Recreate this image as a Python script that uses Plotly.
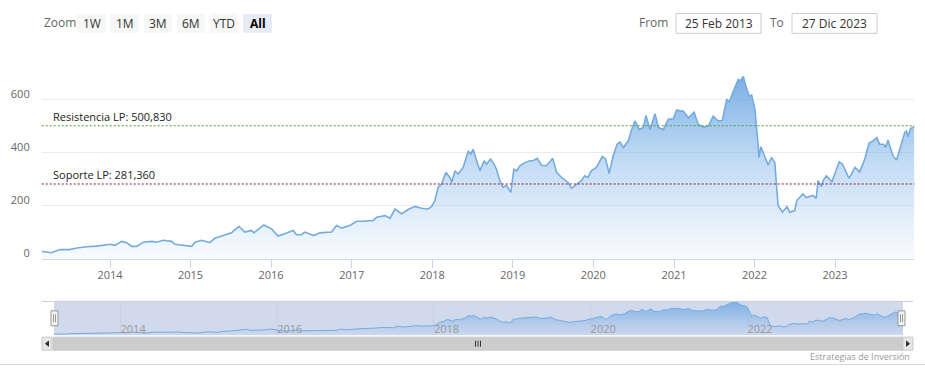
import plotly.graph_objects as go

W, H = 925, 376

# ---------------- data ----------------
dates = [
    "2013-02-25", "2013-04-10", "2013-05-18", "2013-07-02", "2013-08-03", "2013-09-17", "2013-11-01",
    "2014-01-01", "2014-01-23", "2014-02-23", "2014-03-17", "2014-04-09", "2014-05-02", "2014-06-01",
    "2014-07-09", "2014-07-31", "2014-08-30", "2014-10-07", "2014-10-22", "2014-11-29",
    "2015-01-06", "2015-01-21", "2015-02-20", "2015-03-29", "2015-04-21", "2015-05-28", "2015-07-06",
    "2015-07-13", "2015-08-09", "2015-09-04", "2015-10-04", "2015-10-15", "2015-11-03", "2015-11-29",
    "2016-01-03", "2016-02-02", "2016-03-03", "2016-04-10", "2016-04-25", "2016-05-18", "2016-06-02",
    "2016-06-24", "2016-07-12", "2016-08-09", "2016-10-01", "2016-10-24", "2016-11-16", "2016-12-23",
    "2017-01-23", "2017-02-22", "2017-03-25", "2017-04-09", "2017-04-24", "2017-06-01", "2017-06-23",
    "2017-07-16", "2017-08-15", "2017-09-14", "2017-10-14", "2017-11-13", "2017-12-13", "2017-12-29",
    "2018-01-13", "2018-01-28", "2018-02-12", "2018-03-04", "2018-03-22", "2018-03-30", "2018-04-14",
    "2018-04-28", "2018-05-21", "2018-06-13", "2018-06-25", "2018-07-05", "2018-07-21", "2018-08-05",
    "2018-08-24", "2018-09-04", "2018-09-22", "2018-10-04", "2018-10-19", "2018-11-03", "2018-11-18",
    "2018-12-03", "2018-12-23",
    "2019-01-06", "2019-01-18", "2019-02-02", "2019-02-25", "2019-03-19", "2019-04-03", "2019-04-22",
    "2019-05-11", "2019-06-03", "2019-07-01", "2019-07-19", "2019-08-10", "2019-09-09", "2019-09-24",
    "2019-10-17", "2019-11-08", "2019-11-23", "2019-12-08", "2019-12-23",
    "2020-01-15", "2020-02-11", "2020-02-26", "2020-03-13", "2020-03-31", "2020-04-18", "2020-05-01",
    "2020-05-16", "2020-06-08", "2020-06-23", "2020-07-08", "2020-07-27", "2020-08-15", "2020-08-27",
    "2020-09-14", "2020-10-07", "2020-10-22", "2020-11-14", "2020-12-06", "2020-12-29",
    "2021-01-13", "2021-01-31", "2021-02-12", "2021-03-07", "2021-04-02", "2021-04-21", "2021-05-14",
    "2021-06-05", "2021-06-28", "2021-07-20", "2021-08-08", "2021-08-28", "2021-09-09", "2021-09-27",
    "2021-10-19", "2021-10-30", "2021-11-11", "2021-11-23", "2021-12-08", "2021-12-19",
    "2022-01-03", "2022-01-18", "2022-01-21", "2022-01-30", "2022-02-17", "2022-03-04", "2022-03-19",
    "2022-04-03", "2022-04-18", "2022-05-08", "2022-05-28", "2022-06-10", "2022-07-02", "2022-07-12",
    "2022-08-08", "2022-08-24", "2022-09-23", "2022-10-08", "2022-10-16", "2022-10-31", "2022-11-08",
    "2022-11-23", "2022-12-18",
    "2023-01-20", "2023-02-04", "2023-03-06", "2023-04-01", "2023-04-23", "2023-05-16", "2023-06-04",
    "2023-06-22", "2023-07-10", "2023-07-22", "2023-08-10", "2023-08-19", "2023-08-29", "2023-09-21",
    "2023-10-07", "2023-10-22", "2023-11-13", "2023-11-21", "2023-11-28", "2023-12-09", "2023-12-27",
]
prices = [
    27, 22, 34, 34, 40, 45, 47,
    54, 50, 65, 60, 46, 46, 62,
    65, 62, 69, 65, 54, 50,
    46, 62, 69, 60, 77, 87, 97,
    104, 121, 100, 106, 97, 110, 127,
    112, 85, 94, 106, 90, 90, 100,
    94, 87, 97, 100, 125, 115, 125,
    141, 141, 144, 144, 156, 162, 152,
    187, 169, 185, 197, 190, 187, 197,
    219, 269, 281, 325, 306, 287, 331,
    319, 344, 406, 394, 412, 369, 331,
    369, 356, 375, 362, 337, 294, 269,
    276, 250,
    337, 331, 350, 362, 369, 369, 378,
    352, 350, 378, 325, 306, 287, 265,
    281, 294, 312, 306, 331,
    344, 385, 375, 321, 387, 431, 440,
    419, 444, 487, 519, 487, 494, 540,
    487, 546, 494, 487, 525, 527,
    560, 556, 556, 531, 552, 506, 496,
    500, 537, 519, 521, 600, 592, 631,
    675, 671, 687, 650, 612, 617,
    562, 425, 381, 422, 387, 352, 381,
    362, 200, 175, 196, 175, 181, 219,
    244, 230, 238, 227, 294, 272, 294,
    312, 290,
    365, 356, 302, 344, 327, 375, 435,
    444, 456, 431, 431, 419, 447, 387,
    372, 412, 475, 481, 460, 490, 497,
]

resist_value = 500.83
support_value = 281.36
resist_label = "Resistencia LP: 500,830"
support_label = "Soporte LP: 281,360"
y_tick_values = [0, 200, 400, 600]
y_tick_labels = ["0", "200", "400", "600"]
zoom_label = "Zoom"
range_buttons = ["1W", "1M", "3M", "6M", "YTD", "All"]
active_button = "All"
from_label, to_label = "From", "To"
from_date_text = "25 Feb 2013"
to_date_text = "27 Dic 2023"
credit_text = "Estrategias de Inversión"

# ---------------- styling helpers ----------------
FONT = "Open Sans"
LINE_COLOR = "#74abe0"


def fx(p):
    return p / W


def fy(p):
    return 1 - p / H


fig = go.Figure()

# main series
fig.add_trace(go.Scatter(
    x=dates, y=prices, mode="lines", xaxis="x", yaxis="y",
    line=dict(color=LINE_COLOR, width=1.6),
    fill="tozeroy",
    fillgradient=dict(type="vertical", start=0, stop=712,
                      colorscale=[[0, "rgba(124,178,232,0.04)"],
                                  [0.5, "rgba(124,178,232,0.45)"],
                                  [1, "rgba(110,166,226,0.95)"]]),
    hoverinfo="x+y", showlegend=False,
))

# navigator series
fig.add_trace(go.Scatter(
    x=dates, y=prices, mode="lines", xaxis="x2", yaxis="y2",
    line=dict(color=LINE_COLOR, width=1),
    fill="tozeroy",
    fillgradient=dict(type="vertical", start=0, stop=700,
                      colorscale=[[0, "rgba(124,178,232,0.05)"],
                                  [1, "rgba(110,166,226,0.85)"]]),
    hoverinfo="skip", showlegend=False,
))

shapes = []
annotations = []

# support / resistance plot lines
shapes.append(dict(type="line", xref="x domain", yref="y", x0=0, x1=1,
                   y0=resist_value, y1=resist_value,
                   line=dict(color="#4f9a34", width=1, dash="2px,2px")))
shapes.append(dict(type="line", xref="x domain", yref="y", x0=0, x1=1,
                   y0=support_value, y1=support_value,
                   line=dict(color="#8a0f3c", width=1, dash="2px,2px")))
annotations.append(dict(x=dates[0], y=resist_value, xref="x", yref="y", text=resist_label,
                        showarrow=False, xanchor="left", yanchor="bottom", xshift=9, yshift=0,
                        font=dict(family=FONT, size=11, color="#222")))
annotations.append(dict(x=dates[0], y=support_value, xref="x", yref="y", text=support_label,
                        showarrow=False, xanchor="left", yanchor="bottom", xshift=9, yshift=0,
                        font=dict(family=FONT, size=11, color="#222")))

# navigator mask + outline
shapes.append(dict(type="rect", xref="x2 domain", yref="y2 domain", x0=0, x1=1, y0=0, y1=1,
                   fillcolor="rgba(102,133,194,0.3)", line=dict(width=0), layer="below"))
shapes.append(dict(type="line", xref="paper", yref="paper", x0=fx(42), x1=fx(913),
                   y0=fy(303), y1=fy(303), line=dict(color="#cccccc", width=1)))

# navigator handles
for hx in (54.5, 901.5):
    shapes.append(dict(type="rect", xref="paper", yref="paper", x0=fx(hx - 3.5), x1=fx(hx + 3.5),
                       y0=fy(327.5), y1=fy(312.5), fillcolor="#f2f2f2",
                       line=dict(color="#999999", width=1)))
    for dx in (-1, 1):
        shapes.append(dict(type="line", xref="paper", yref="paper", x0=fx(hx + dx), x1=fx(hx + dx),
                           y0=fy(316), y1=fy(324), line=dict(color="#999999", width=1)))

# scrollbar
shapes.append(dict(type="rect", xref="paper", yref="paper", x0=fx(42), x1=fx(913),
                   y0=fy(352), y1=fy(339), fillcolor="#f2f2f2", line=dict(color="#f2f2f2", width=1)))
shapes.append(dict(type="rect", xref="paper", yref="paper", x0=fx(53), x1=fx(903),
                   y0=fy(352), y1=fy(339), fillcolor="#cccccc", line=dict(color="#cccccc", width=1)))
for ax0 in (42, 903):
    shapes.append(dict(type="rect", xref="paper", yref="paper", x0=fx(ax0), x1=fx(ax0 + 10),
                       y0=fy(352), y1=fy(339), fillcolor="#e6e6e6", line=dict(color="#cccccc", width=1)))
shapes.append(dict(type="path", xref="paper", yref="paper",
                   path=f"M {fx(48.5)},{fy(343)} L {fx(45.5)},{fy(345.5)} L {fx(48.5)},{fy(348)} Z",
                   fillcolor="#333333", line=dict(color="#333333", width=1)))
shapes.append(dict(type="path", xref="paper", yref="paper",
                   path=f"M {fx(906.5)},{fy(343)} L {fx(909.5)},{fy(345.5)} L {fx(906.5)},{fy(348)} Z",
                   fillcolor="#333333", line=dict(color="#333333", width=1)))
for gx in (475.5, 478, 480.5):
    shapes.append(dict(type="line", xref="paper", yref="paper", x0=fx(gx), x1=fx(gx),
                       y0=fy(342.5), y1=fy(348.5), line=dict(color="#333333", width=1)))

# bottom separator line
shapes.append(dict(type="line", xref="paper", yref="paper", x0=0, x1=1, y0=fy(366.5), y1=fy(366.5),
                   line=dict(color="#d8d8d8", width=1)))

# range selector (zoom buttons)
annotations.append(dict(x=fx(42), y=fy(23), xref="paper", yref="paper", text=zoom_label,
                        showarrow=False, xanchor="left", yanchor="middle",
                        font=dict(family=FONT, size=12, color="#666666")))
btn_edges = [(77, 106), (110, 139), (144, 172), (177, 205), (210, 238), (243, 272)]
for label, (bx0, bx1) in zip(range_buttons, btn_edges):
    active = label == active_button
    shapes.append(dict(type="rect", xref="paper", yref="paper", x0=fx(bx0), x1=fx(bx1),
                       y0=fy(33), y1=fy(14), fillcolor="#e6ebf5" if active else "#f7f7f7",
                       line=dict(width=0)))
    annotations.append(dict(x=fx((bx0 + bx1) / 2), y=fy(23.5), xref="paper", yref="paper",
                            text=f"<b>{label}</b>" if active else label, showarrow=False,
                            xanchor="center", yanchor="middle",
                            font=dict(family=FONT, size=12, color="#000000" if active else "#333333")))

# date inputs
annotations.append(dict(x=fx(670), y=fy(23), xref="paper", yref="paper", text=from_label,
                        showarrow=False, xanchor="right", yanchor="middle",
                        font=dict(family=FONT, size=12, color="#666666")))
annotations.append(dict(x=fx(786), y=fy(23), xref="paper", yref="paper", text=to_label,
                        showarrow=False, xanchor="right", yanchor="middle",
                        font=dict(family=FONT, size=12, color="#666666")))
for (bx0, bx1), txt in zip([(676, 761), (792, 877)], [from_date_text, to_date_text]):
    shapes.append(dict(type="rect", xref="paper", yref="paper", x0=fx(bx0), x1=fx(bx1),
                       y0=fy(33.5), y1=fy(13.5), fillcolor="#ffffff",
                       line=dict(color="#cccccc", width=1)))
    annotations.append(dict(x=fx((bx0 + bx1) / 2), y=fy(23.5), xref="paper", yref="paper",
                            text=txt, showarrow=False, xanchor="center", yanchor="middle",
                            font=dict(family=FONT, size=12, color="#333333")))

# credits
annotations.append(dict(x=fx(912), y=fy(358), xref="paper", yref="paper", text=credit_text,
                        showarrow=False, xanchor="right", yanchor="middle",
                        font=dict(family=FONT, size=9, color="#999999")))

fig.update_layout(
    width=W, height=H, autosize=False,
    margin=dict(l=0, r=0, t=0, b=0),
    paper_bgcolor="#ffffff", plot_bgcolor="rgba(0,0,0,0)",
    font=dict(family=FONT, size=11, color="#666666"),
    showlegend=False,
    shapes=shapes, annotations=annotations,
    xaxis=dict(
        domain=[fx(41.7), fx(914.4)], range=[dates[0], dates[-1]], type="date",
        anchor="y", tick0="2014-01-01", dtick="M12", tickformat="%Y",
        showgrid=False, zeroline=False, showline=True, linecolor="#ccd6eb", linewidth=1,
        ticks="outside", ticklen=8, tickcolor="#ccd6eb", ticklabelstandoff=-2,
        tickfont=dict(family=FONT, size=11, color="#666666"),
    ),
    yaxis=dict(
        domain=[fy(260), fy(70)], range=[0, 712.5], anchor="x",
        tickvals=y_tick_values, ticktext=y_tick_labels,
        showgrid=True, gridcolor="#ebebeb", gridwidth=1, zeroline=False, showline=False,
        ticks="", ticklabelstandoff=11, ticklabelshift=-5,
        tickfont=dict(family=FONT, size=11, color="#666666"),
    ),
    xaxis2=dict(
        domain=[fx(54), fx(903)], range=[dates[0], dates[-1]], type="date",
        anchor="y2", tick0="2014-01-01", dtick="M24", tickformat="%Y",
        showgrid=True, gridcolor="#c9d2e2", gridwidth=1, zeroline=False, showline=False,
        ticks="", ticklabelposition="inside right", ticklabelstandoff=-6,
        tickfont=dict(family=FONT, size=11, color="#999999"),
    ),
    yaxis2=dict(
        domain=[fy(337), fy(303)], range=[0, 700], anchor="x2",
        visible=False, showgrid=False, zeroline=False,
    ),
    hovermode=False,
)

fig.write_html("out.html",
               config={"displayModeBar": False, "staticPlot": True},
               post_script="document.body.style.margin='0px';document.body.style.overflow='hidden';")
